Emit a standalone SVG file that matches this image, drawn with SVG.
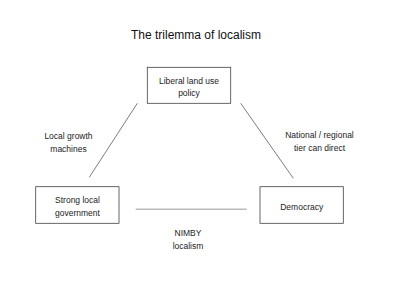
<svg xmlns="http://www.w3.org/2000/svg" width="400" height="300" viewBox="0 0 400 300">
<style>
.box{fill:#fff;stroke:#404040;stroke-width:0.8}
.t{font-family:"Liberation Sans",Arial,sans-serif;font-size:8.5px;fill:#222;text-anchor:middle}
.title{font-family:"Liberation Sans",Arial,sans-serif;font-size:12px;fill:#111;text-anchor:middle}
.ln{stroke:#444;stroke-width:0.7}
</style>
<rect width="400" height="300" fill="#fff"/>
<text class="title" x="196" y="39">The trilemma of localism</text>
<g id="connectors">
<line class="ln" x1="137.3" y1="103.3" x2="89.3" y2="177.3"/>
<line class="ln" x1="240.7" y1="103.3" x2="293.3" y2="178.3"/>
<line x1="135.7" y1="209.3" x2="246.7" y2="209.3" stroke="#bbb" stroke-width="1.5"/>
<text class="t" x="68.5" y="139">Local growth</text>
<text class="t" x="68.5" y="152">machines</text>
<text class="t" x="319.5" y="138">National / regional</text>
<text class="t" x="319.5" y="150.5">tier can direct</text>
<text class="t" x="188" y="236">NIMBY</text>
<text class="t" x="188" y="248.5">localism</text>
</g>
<g id="liberal">
<rect class="box" x="147.3" y="67.3" width="83.4" height="36"/>
<text class="t" x="189" y="84">Liberal land use</text>
<text class="t" x="189" y="96">policy</text>
</g>
<g id="strong">
<rect class="box" x="35.7" y="186.7" width="83.3" height="36.6"/>
<text class="t" x="77.5" y="203">Strong local</text>
<text class="t" x="77.5" y="215.5">government</text>
</g>
<g id="democracy">
<rect class="box" x="260" y="186.7" width="83.3" height="36.6"/>
<text class="t" x="301.7" y="209.7">Democracy</text>
</g>
</svg>
